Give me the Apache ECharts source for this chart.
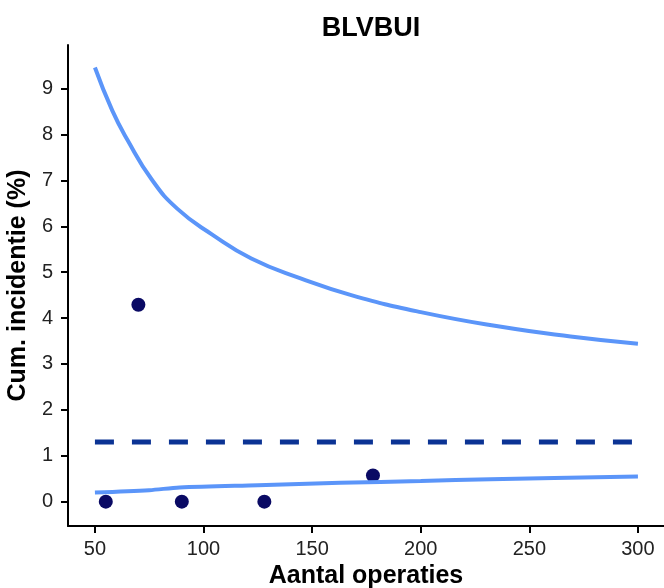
<!DOCTYPE html>
<html>
<head>
<meta charset="utf-8">
<script src="https://cdn.jsdelivr.net/npm/echarts@6/dist/echarts.min.js"></script>
<style>
  html, body { margin: 0; padding: 0; background: #fff; }
  #main { width: 664px; height: 588px; }
</style>
</head>
<body>
<div id="main"></div>
<script>
// tick labels
var xTicks = [50, 100, 150, 200, 250, 300];
var yTicks = [0, 1, 2, 3, 4, 5, 6, 7, 8, 9];

// upper control limit
var upperN = [50, 58, 65, 76, 88, 104, 122, 145, 168, 200, 237, 269, 300];
var upperV = [9.46, 8.52, 7.88, 7.03, 6.38, 5.82, 5.30, 4.86, 4.50, 4.13, 3.81, 3.60, 3.44];

// lower control limit
var lowerN = [50, 75, 89, 125, 163, 200, 232, 300];
var lowerV = [0.20, 0.25, 0.31, 0.36, 0.41, 0.45, 0.49, 0.55];

// target (dashed)
var targetN = [50, 298];
var targetV = [1.30, 1.30];

// hospitals
var pointN = [55, 70, 90, 128, 178];
var pointV = [0, 4.29, 0, 0, 0.57];

function pairs(xs, ys) {
  return xs.map(function (x, i) { return [x, ys[i]]; });
}

var chart = echarts.init(document.getElementById('main'));

var font = 'Liberation Sans, Arial, sans-serif';

var option = {
  animation: false,
  title: {
    text: 'BLVBUI',
    left: 366,
    top: 10,
    textAlign: 'center',
    textStyle: { fontFamily: font, fontSize: 27, fontWeight: 'bold', color: '#000' }
  },
  grid: {
    left: 68,
    top: 45,
    right: 0,
    bottom: 62,
    containLabel: false,
    outerBoundsMode: 'none'
  },
  xAxis: {
    type: 'value',
    min: 37.6,
    max: 312,
    name: 'Aantal operaties',
    nameLocation: 'middle',
    nameGap: 31,
    nameTextStyle: { fontFamily: font, fontSize: 25, fontWeight: 'bold', color: '#000' },
    axisLine: { show: true, onZero: false, lineStyle: { color: '#000', width: 2 } },
    axisTick: { show: true, length: 7, customValues: xTicks, lineStyle: { color: '#000', width: 2 } },
    axisLabel: { customValues: xTicks, fontFamily: font, fontSize: 20, color: '#222', margin: 13 },
    splitLine: { show: false }
  },
  yAxis: {
    type: 'value',
    min: -0.53,
    max: 9.95,
    name: 'Cum. incidentie (%)',
    nameLocation: 'middle',
    nameGap: 33,
    nameTextStyle: { fontFamily: font, fontSize: 25, fontWeight: 'bold', color: '#000' },
    axisLine: { show: true, onZero: false, lineStyle: { color: '#000', width: 2 } },
    axisTick: { show: true, length: 7, customValues: yTicks, lineStyle: { color: '#000', width: 2 } },
    axisLabel: { customValues: yTicks, fontFamily: font, fontSize: 20, color: '#222', margin: 15 },
    splitLine: { show: false }
  },
  series: [
    {
      name: 'upper',
      type: 'line',
      smooth: true,
      showSymbol: false,
      data: pairs(upperN, upperV),
      lineStyle: { color: '#5b95f9', width: 4 }
    },
    {
      name: 'lower',
      type: 'line',
      smooth: 0.3,
      showSymbol: false,
      data: pairs(lowerN, lowerV),
      lineStyle: { color: '#5b95f9', width: 4 }
    },
    {
      name: 'target',
      type: 'line',
      showSymbol: false,
      data: pairs(targetN, targetV),
      lineStyle: { color: '#0b3394', width: 5, type: [19, 18] }
    },
    {
      name: 'points',
      type: 'scatter',
      symbolSize: 14,
      data: pairs(pointN, pointV),
      itemStyle: { color: '#0a0a64', opacity: 1 }
    }
  ]
};

chart.setOption(option);
</script>
</body>
</html>
